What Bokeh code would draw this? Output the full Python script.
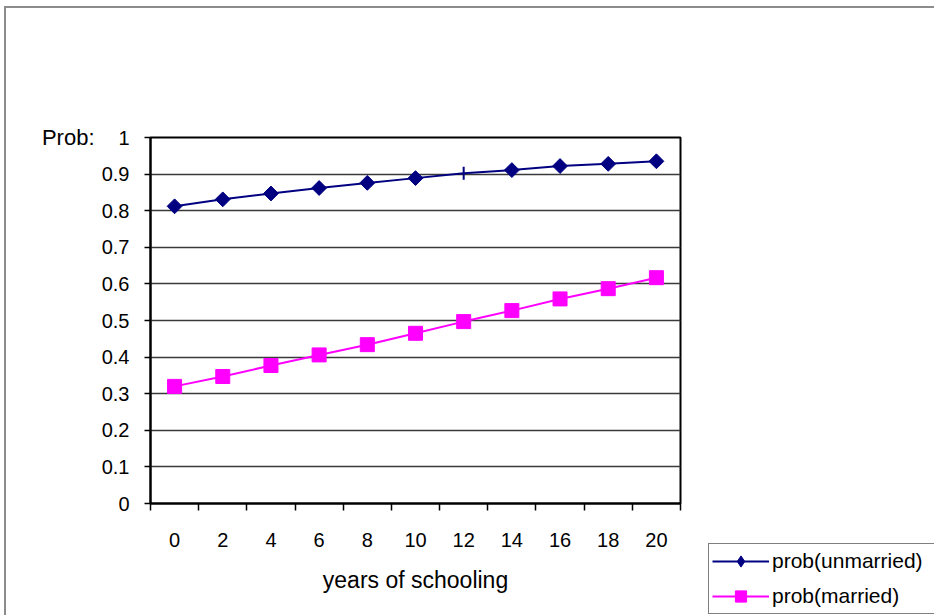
import numpy as np
from bokeh.plotting import figure
from bokeh.layouts import row, column
from bokeh.models import (Range1d, LinearAxis, FixedTicker, Spacer,
                          ColumnDataSource, CDSView, IndexFilter, Legend, LegendItem, Grid)
from bokeh.embed import file_html
from bokeh.resources import INLINE

# ---- data ----
years = ["0", "2", "4", "6", "8", "10", "12", "14", "16", "18", "20"]
prob_unmarried = [0.812, 0.831, 0.847, 0.862, 0.876, 0.889, 0.902, 0.911, 0.922, 0.928, 0.935]
prob_married = [0.320, 0.347, 0.377, 0.406, 0.434, 0.465, 0.497, 0.527, 0.559, 0.587, 0.617]
y_ticks = [0.0, 0.1, 0.2, 0.3, 0.4, 0.5, 0.6, 0.7, 0.8, 0.9, 1.0]
y_tick_labels = ["0", "0.1", "0.2", "0.3", "0.4", "0.5", "0.6", "0.7", "0.8", "0.9", "1"]
series_names = ["prob(unmarried)", "prob(married)"]
x_title = "years of schooling"
y_title = "Prob:"
no_marker_year = "12"   # the unmarried point drawn with only a short vertical bar

FONT = "Liberation Sans"
FS_TICK = "20px"
FS_YT = "22px"
FS_XT = "23px"
FS_LEG = "21px"
NAVY = "#000080"
MAGENTA = "#FF00FF"

# category slots: category i occupies [i, i+1], centred at i+0.5
n = len(years)
centers = [i + 0.5 for i in range(n)]
edges = list(range(n + 1))

src = ColumnDataSource(dict(x=centers, years=years, unmarried=prob_unmarried, married=prob_married))

p = figure(width=700, height=605,
           x_range=Range1d(0, n), y_range=Range1d(0, 1),
           x_axis_location=None, y_axis_location=None,
           output_backend="svg", toolbar_location=None,
           min_border_left=144, min_border_top=129,
           min_border_right=26, min_border_bottom=110)
p.xgrid.visible = False
p.ygrid.visible = False
p.background_fill_color = "white"
p.border_fill_color = "white"
p.outline_line_color = "black"
p.outline_line_width = 2

# horizontal gridlines
p.add_layout(Grid(dimension=1, ticker=FixedTicker(ticks=y_ticks),
                  grid_line_color="#3a3a3a", grid_line_width=1.5))

# y axis
yaxis = LinearAxis(ticker=FixedTicker(ticks=y_ticks),
                   major_label_overrides=dict(zip(y_ticks, y_tick_labels)),
                   major_tick_in=0, major_tick_out=6, major_tick_line_width=1.5,
                   minor_tick_line_color=None, axis_line_width=2,
                   major_label_standoff=15,
                   major_label_text_font=FONT, major_label_text_font_size=FS_TICK,
                   major_label_text_color="black")
p.add_layout(yaxis, "left")
# "Prob:" title placed level with the top of the value axis
ytitle_axis = LinearAxis(ticker=FixedTicker(ticks=[y_ticks[-1]]),
                         major_label_overrides={y_ticks[-1]: y_title},
                         axis_line_color=None, major_tick_line_color=None,
                         minor_tick_line_color=None, major_tick_in=0, major_tick_out=0,
                         major_label_standoff=4,
                         major_label_text_font=FONT, major_label_text_font_size=FS_YT,
                         major_label_text_color="black")
p.add_layout(ytitle_axis, "left")

# x axis: tick marks on category boundaries, labels at category centres
xaxis = LinearAxis(ticker=FixedTicker(ticks=centers, minor_ticks=edges),
                   major_label_overrides=dict(zip(centers, years)),
                   major_tick_line_color=None, major_tick_in=0, major_tick_out=0,
                   minor_tick_line_color="black", minor_tick_line_width=1.5,
                   minor_tick_in=0, minor_tick_out=7, axis_line_width=2,
                   major_label_standoff=22,
                   major_label_text_font=FONT, major_label_text_font_size=FS_TICK,
                   major_label_text_color="black",
                   axis_label=x_title, axis_label_standoff=17,
                   axis_label_text_font=FONT, axis_label_text_font_size=FS_XT,
                   axis_label_text_font_style="normal", axis_label_text_color="black")
p.add_layout(xaxis, "below")

gap = years.index(no_marker_year)
marker_idx = [i for i in range(n) if i != gap]

p.line("x", "unmarried", source=src, line_color=NAVY, line_width=2)
p.scatter("x", "unmarried", source=src, view=CDSView(filter=IndexFilter(marker_idx)),
          marker="square", angle=np.pi / 4, size=10.5, fill_color=NAVY, line_color=NAVY)
p.scatter("x", "unmarried", source=src, view=CDSView(filter=IndexFilter([gap])),
          marker="dash", angle=np.pi / 2, size=13, line_color=NAVY, line_width=2)
p.line("x", "married", source=src, line_color=MAGENTA, line_width=2)
p.scatter("x", "married", source=src, marker="square", size=14,
          fill_color=MAGENTA, line_color=MAGENTA)

# ---- legend panel (its own small figure; the series are drawn off its visible range) ----
pl = figure(width=228, height=74, x_range=Range1d(0, n), y_range=Range1d(2, 3),
            x_axis_location=None, y_axis_location=None,
            output_backend="svg", toolbar_location=None,
            min_border_left=0, min_border_right=0, min_border_top=0, min_border_bottom=0)
pl.xgrid.visible = False
pl.ygrid.visible = False
pl.outline_line_color = None
pl.background_fill_color = "white"
pl.border_fill_color = "white"
g1 = pl.line("x", "unmarried", source=src, line_color=NAVY, line_width=2)
m1 = pl.scatter("x", "unmarried", source=src, marker="diamond", fill_color=NAVY, line_color=NAVY)
g2 = pl.line("x", "married", source=src, line_color=MAGENTA, line_width=2)
m2 = pl.scatter("x", "married", source=src, marker="square", fill_color=MAGENTA, line_color=MAGENTA)

legend = Legend(items=[LegendItem(label=series_names[0], renderers=[g1, m1]),
                       LegendItem(label=series_names[1], renderers=[g2, m2])],
                location="top_left", margin=2,
                border_line_color="black", border_line_width=1.5,
                background_fill_color="white", background_fill_alpha=1,
                label_text_font=FONT, label_text_font_size=FS_LEG, label_text_color="black",
                glyph_width=57, glyph_height=28, label_standoff=3,
                padding=3, spacing=7, label_width=260)
pl.add_layout(legend, "center")

lay = row(p, column(Spacer(width=228, height=533), pl),
          styles={"border-left": "2px solid #8c8c8c", "border-top": "2px solid #8c8c8c",
                  "margin-left": "4px", "margin-top": "6px"})

open("out.html", "w").write(file_html(lay, INLINE))
